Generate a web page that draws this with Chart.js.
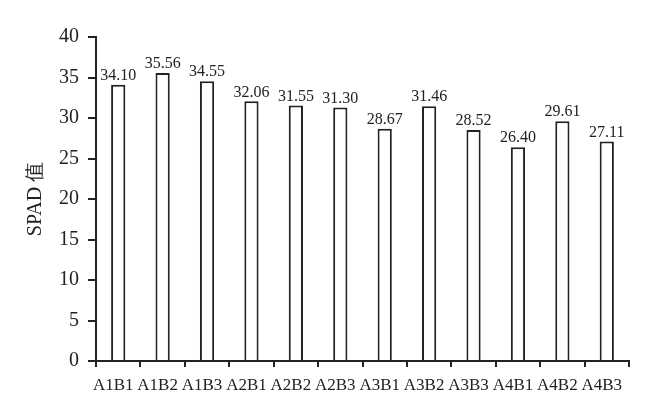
<!DOCTYPE html>
<html><head><meta charset="utf-8">
<script src="https://cdn.jsdelivr.net/npm/chart.js@4/dist/chart.umd.min.js"></script>
<style>html,body{margin:0;padding:0;background:#fff}#wrap{width:661px;height:407px}</style>
</head><body><div id="wrap"><canvas id="c" width="661" height="407"></canvas></div>
<script>
const categories = ["A1B1","A1B2","A1B3","A2B1","A2B2","A2B3","A3B1","A3B2","A3B3","A4B1","A4B2","A4B3"];
const spadValues = [34.10,35.56,34.55,32.06,31.55,31.30,28.67,31.46,28.52,26.40,29.61,27.11];
const valueLabels = ["34.10","35.56","34.55","32.06","31.55","31.30","28.67","31.46","28.52","26.40","29.61","27.11"];
const yTitle = "SPAD 值";

const serif = "'Liberation Serif','DejaVu Serif',serif";
const labelPlugin = {
  id:'vlabels',
  afterDatasetsDraw(chart){
    const ctx = chart.ctx;
    const meta = chart.getDatasetMeta(0);
    ctx.save();
    ctx.font = "16px " + serif;
    ctx.fillStyle = "#222";
    ctx.textAlign = "center";
    ctx.textBaseline = "bottom";
    meta.data.forEach((bar,i)=>{
      ctx.fillText(valueLabels[i], bar.x, bar.y - 1);
    });
    ctx.restore();
  }
};

new Chart(document.getElementById('c'),{
  type:'bar',
  data:{labels:categories,datasets:[{data:spadValues,backgroundColor:'#fff',borderColor:'#222',borderWidth:2,barPercentage:0.8,categoryPercentage:0.4}]},
  options:{
    responsive:false,animation:false,
    layout:{padding:{top:37,right:32,left:24,bottom:0}},
    plugins:{legend:{display:false},tooltip:{enabled:false}},
    scales:{
      x:{
        offset:true,
        grid:{display:true,drawOnChartArea:false,drawTicks:true,tickLength:6,offset:true,color:'#222',lineWidth:2,tickColor:'#222'},
        border:{display:true,color:'#222',width:2},
        ticks:{font:{family:serif,size:17},color:'#222',maxRotation:0,autoSkip:false,padding:8,labelOffset:-5},
        afterFit(s){s.height=46;}
      },
      y:{
        min:0,max:40,
        grid:{display:true,drawOnChartArea:false,drawTicks:true,tickLength:8,color:'#222',lineWidth:2,tickColor:'#222'},
        border:{display:true,color:'#222',width:2},
        ticks:{stepSize:5,font:{family:serif,size:20},color:'#222',padding:9},
        title:{display:true,text:yTitle,font:{family:serif,size:20},color:'#222',padding:{top:0,bottom:0}},
        afterFit(s){s.width=72;}
      }
    }
  },
  plugins:[labelPlugin]
});
</script></body></html>
